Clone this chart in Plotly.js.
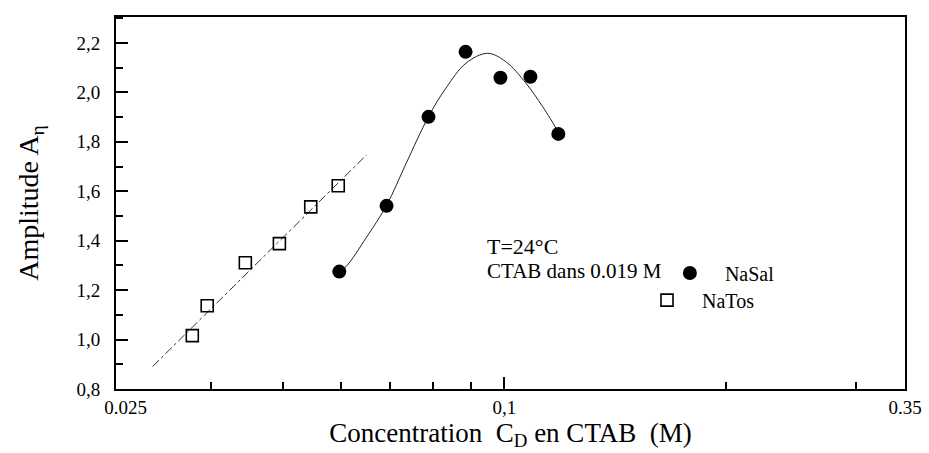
<!DOCTYPE html>
<html>
<head>
<meta charset="utf-8">
<script src="https://cdn.plot.ly/plotly-3.0.1.min.js"></script>
<style>
html,body{margin:0;padding:0;background:#fff;}
#chart{width:929px;height:453px;}
</style>
</head>
<body>
<div id="chart"></div>
<script>
// NaTos (open squares)
const tosX = [0.0377, 0.0395, 0.0445, 0.0495, 0.0546, 0.0595];
const tosY = [1.016, 1.137, 1.311, 1.388, 1.537, 1.622];
// NaTos linear fit (dash-dot line), endpoints
const tosFitX = [0.0333, 0.0650];
const tosFitY = [0.891, 1.747];
// NaSal (filled circles)
const salX = [0.0597, 0.0692, 0.0789, 0.0886, 0.0988, 0.1085, 0.1184];
const salY = [1.275, 1.541, 1.901, 2.164, 2.059, 2.063, 1.832];
// NaSal smooth guide curve
const salCurveX = [0.0597, 0.0610, 0.0649, 0.0692, 0.0736, 0.0789, 0.0833, 0.0887, 0.0949, 0.1005, 0.1070, 0.1127, 0.1175, 0.1184];
const salCurveY = [1.275, 1.296, 1.411, 1.543, 1.714, 1.902, 2.017, 2.118, 2.158, 2.124, 2.037, 1.943, 1.855, 1.832];

// Axis ticks
const xTickVals = [0.0297, 0.1, 0.35];
const xTickText = ['\u00A0\u00A0\u00A0\u00A00.025', '0,1', '0.35'];
const xMinorVals = [0.04, 0.05, 0.06, 0.07, 0.08, 0.09, 0.2, 0.3];
const yTickVals = [0.8, 1.0, 1.2, 1.4, 1.6, 1.8, 2.0, 2.2];
const yTickText = ['0,8', '1,0', '1,2', '1,4', '1,6', '1,8', '2,0', '2,2'];

const FONT = 'Liberation Serif';
const NB = '\u00A0\u00A0\u00A0';

const traces = [
  {x: tosFitX, y: tosFitY, mode: 'lines', line: {color: '#333', width: 1, dash: 'dashdot'}, showlegend: false, hoverinfo: 'skip'},
  {x: salCurveX, y: salCurveY, mode: 'lines', line: {color: '#222', width: 1, shape: 'spline'}, showlegend: false, hoverinfo: 'skip'},
  {x: salX, y: salY, mode: 'markers', name: NB + 'NaSal', legend: 'legend',
   marker: {symbol: 'circle', size: 14, color: '#000'}},
  {x: tosX, y: tosY, mode: 'markers', name: NB + 'NaTos', legend: 'legend2',
   marker: {symbol: 'square-open', size: 12, color: '#000', line: {width: 1.6, color: '#000'}}}
];

const layout = {
  width: 929, height: 453,
  margin: {l: 116, r: 24, t: 17, b: 64},
  paper_bgcolor: '#fff', plot_bgcolor: '#fff',
  font: {family: FONT, color: '#000', size: 19},
  xaxis: {
    type: 'log',
    range: [Math.log10(0.0297), Math.log10(0.35)],
    tickmode: 'array', tickvals: xTickVals, ticktext: xTickText,
    ticks: 'inside', ticklen: 12, tickwidth: 1.5, tickcolor: '#000',
    minor: {tickmode: 'array', tickvals: xMinorVals, ticks: 'inside', ticklen: 7, tickwidth: 1.5, tickcolor: '#000', showgrid: false},
    showgrid: false, zeroline: false,
    showline: true, linewidth: 2, linecolor: '#000', mirror: true,
    tickfont: {family: FONT, size: 19, color: '#000'},
    title: {text: 'Concentration\u00A0\u00A0C<sub>D</sub> en CTAB\u00A0\u00A0(M)', font: {family: FONT, size: 27, color: '#000'}, standoff: 4}
  },
  yaxis: {
    range: [0.8, 2.305],
    tickmode: 'array', tickvals: yTickVals, ticktext: yTickText,
    ticks: 'inside', ticklen: 12, tickwidth: 1.5, tickcolor: '#000',
    minor: {dtick: 0.1, ticks: 'inside', ticklen: 7, tickwidth: 1.5, tickcolor: '#000', showgrid: false},
    ticklabelstandoff: 10,
    showgrid: false, zeroline: false,
    showline: true, linewidth: 2, linecolor: '#000', mirror: true,
    tickfont: {family: FONT, size: 19, color: '#000'},
    title: {text: 'Amplitude A<sub>\u03B7</sub>', font: {family: FONT, size: 28, color: '#000'}, standoff: 30}
  },
  legend: {x: 0.702, y: 0.312, xanchor: 'left', yanchor: 'middle', bgcolor: 'rgba(0,0,0,0)', font: {family: FONT, size: 20, color: '#000'}},
  legend2: {x: 0.673, y: 0.239, xanchor: 'left', yanchor: 'middle', bgcolor: 'rgba(0,0,0,0)', font: {family: FONT, size: 20, color: '#000'}},
  annotations: [
    {xref: 'paper', yref: 'paper', x: 0.4677, y: 0.3844, xanchor: 'left', yanchor: 'middle', showarrow: false, text: 'T=24°C', font: {family: FONT, size: 22, color: '#000'}},
    {xref: 'paper', yref: 'paper', x: 0.4677, y: 0.317, xanchor: 'left', yanchor: 'middle', showarrow: false, text: 'CTAB dans 0.019 M', font: {family: FONT, size: 21, color: '#000'}}
  ]
};

Plotly.newPlot('chart', traces, layout, {displayModeBar: false});
</script>
</body>
</html>
